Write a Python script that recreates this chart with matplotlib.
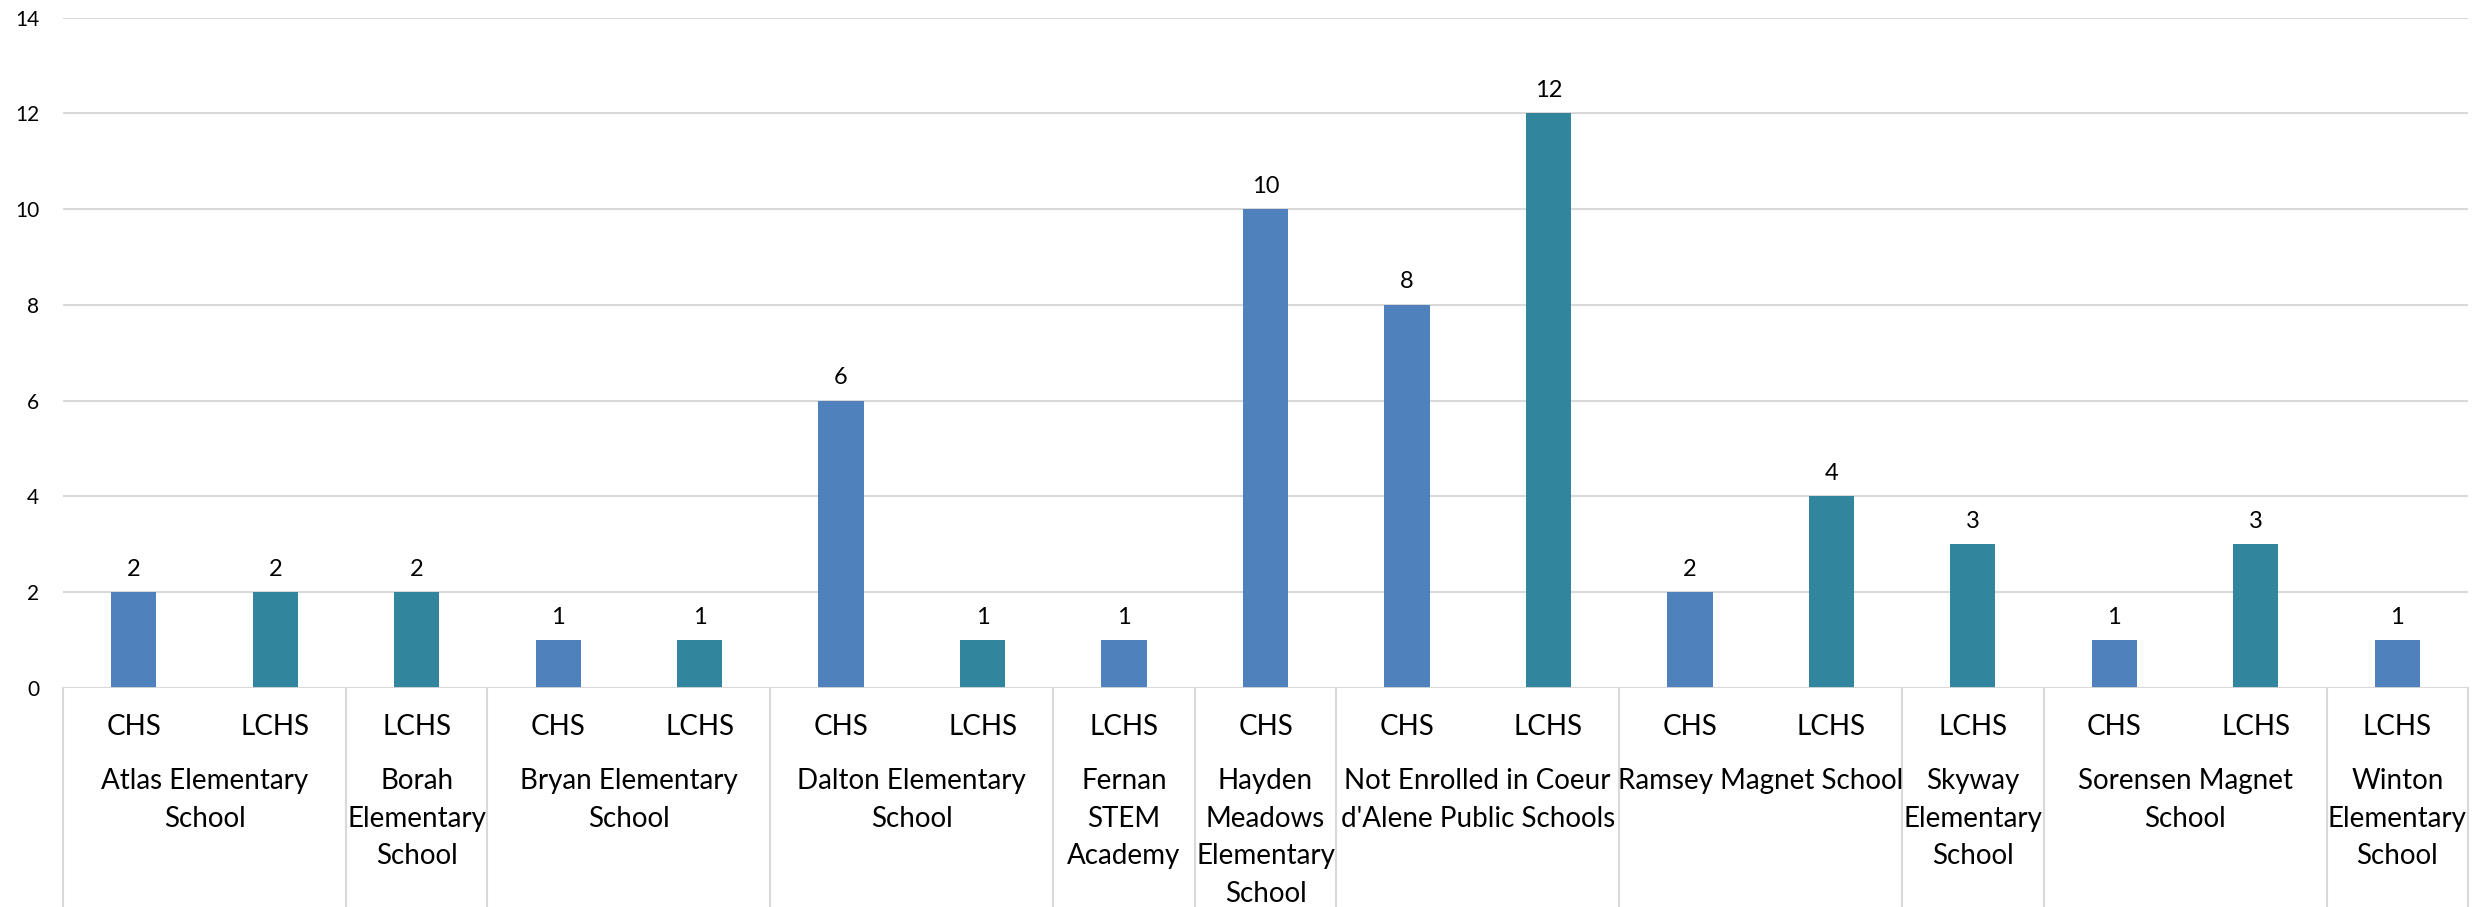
import matplotlib
matplotlib.use('Agg')
import matplotlib.pyplot as plt
import numpy as np

# schools and how many bars each one has
schools = ['Atlas Elementary\nSchool', 'Borah\nElementary\nSchool', 'Bryan Elementary\nSchool',
           'Dalton Elementary\nSchool', 'Fernan\nSTEM\nAcademy', 'Hayden\nMeadows\nElementary\nSchool',
           "Not Enrolled in Coeur\nd'Alene Public Schools", 'Ramsey Magnet School',
           'Skyway\nElementary\nSchool', 'Sorensen Magnet\nSchool', 'Winton\nElementary\nSchool']
school_sizes = [2, 1, 2, 2, 1, 1, 2, 2, 1, 2, 1]

# one entry per bar
high_school = ['CHS', 'LCHS', 'LCHS', 'CHS', 'LCHS', 'CHS', 'LCHS', 'LCHS', 'CHS',
               'CHS', 'LCHS', 'CHS', 'LCHS', 'LCHS', 'CHS', 'LCHS', 'LCHS']
counts = [2, 2, 2, 1, 1, 6, 1, 1, 10, 8, 12, 2, 4, 3, 1, 3, 1]

blue = '#4F81BD'
teal = '#31859C'
bar_colors = [blue, teal, teal, blue, teal, blue, teal, blue, blue,
              blue, teal, blue, teal, teal, blue, teal, blue]

plt.rcParams['font.family'] = ['Lato', 'DejaVu Sans']

W, H = 2489, 907
fig = plt.figure(figsize=(W / 100, H / 100), dpi=100)
left, right, top, zero = 63, 2468, 17.7, 688
ax = fig.add_axes([left / W, (H - zero) / H, (right - left) / W, (zero - top) / H])
ax_h = zero - top

x = np.arange(len(counts))
bars = ax.bar(x, counts, width=0.32, color=bar_colors, zorder=3)
ax.bar_label(bars, padding=9, fontsize=17, color='#000000')

ax.set_xlim(-0.5, len(counts) - 0.5)
ax.set_ylim(0, 14)
ax.set_yticks(np.arange(0, 15, 2))
ax.tick_params(axis='y', length=0, pad=17, labelsize=15)
ax.set_xticks([])
for s in ax.spines.values():
    s.set_visible(False)
ax.yaxis.grid(True, color='#D9D9D9', linewidth=1.5, zorder=0)
ax.axhline(0, color='#D9D9D9', linewidth=2, zorder=4)

trans = ax.get_xaxis_transform()

# sub labels under each bar
for xi, lab in zip(x, high_school):
    ax.text(xi, -39 / ax_h, lab, transform=trans, ha='center', va='center', fontsize=20)

# school labels and separators
edges = np.concatenate([[0], np.cumsum(school_sizes)]) - 0.5
for i, name in enumerate(schools):
    mid = (edges[i] + edges[i + 1]) / 2
    ax.text(mid, -80 / ax_h, name, transform=trans, ha='center', va='top',
            fontsize=20, linespacing=1.55, multialignment='center')
for e in edges:
    ax.plot([e, e], [0, -(H - zero) / ax_h], transform=trans, color='#D9D9D9',
            linewidth=1.5, clip_on=False)

fig.savefig('out.png', dpi=100, facecolor='white')
